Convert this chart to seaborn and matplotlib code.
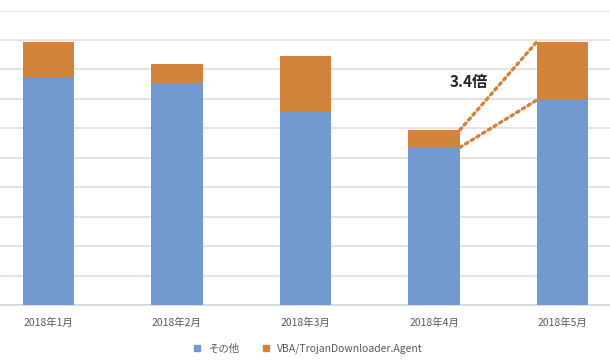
import numpy as np
import pandas as pd
import seaborn as sns
import matplotlib.pyplot as plt

sns.set_style("white")
plt.rcParams['font.family'] = ['Noto Sans CJK JP', 'DejaVu Sans']

# -------------------------
# DATA (grid units)
# -------------------------
months = ["2018年1月", "2018年2月", "2018年3月", "2018年4月", "2018年5月"]
other = [7.72, 7.53, 6.60, 5.35, 6.96]
vba = [1.22, 0.65, 1.87, 0.59, 1.98]
series_names = ["その他", "VBA/TrojanDownloader.Agent"]
ratio_label = "3.4倍"

blue = "#7399d1"
orange = "#d2833b"

df = pd.DataFrame({"month": months, "other": other, "vba": vba})
df["total"] = df["other"] + df["vba"]

fig = plt.figure(figsize=(6.1, 3.63), dpi=100)
ax = fig.add_axes([-16 / 610, 58 / 363, 643 / 610, 294.5 / 363])

# stacked bars: total in orange, the blue part drawn over it
sns.barplot(data=df, x="month", y="total", color=orange, saturation=1,
            width=0.40, ax=ax, zorder=2, linewidth=0, edgecolor="none")
sns.barplot(data=df, x="month", y="other", color=blue, saturation=1,
            width=0.40, ax=ax, zorder=3, linewidth=0, edgecolor="none")

ax.set_ylim(0, 10)
ax.set_xlim(-0.5, 4.5)
ax.set_yticks(np.arange(0, 11, 1))
ax.yaxis.grid(True, color="#e3e3e3", linewidth=1.4, zorder=0)
ax.set_yticklabels([])
ax.tick_params(axis="y", length=0)
ax.set_xlabel("")
ax.set_ylabel("")
for s in ["top", "right", "left"]:
    ax.spines[s].set_visible(False)
ax.spines["bottom"].set_color("#d6d6d6")
ax.spines["bottom"].set_linewidth(1.2)

ax.set_xticks(range(len(months)))
ax.set_xticklabels(months, fontsize=7.5, color="#595959")
ax.tick_params(axis="x", length=0, pad=9)
ax.set_xticks(np.arange(0.5, len(months) - 1, 1), minor=True)
ax.tick_params(axis="x", which="minor", length=4, color="#d6d6d6")

# dotted growth lines from April to May
x0, x1 = 3 + 0.2, 4 - 0.2
ax.plot([x0, x1], [df["total"][3], df["total"][4]], linestyle=(0, (0.8, 1.2)),
        color=orange, linewidth=2.4, zorder=4, dash_capstyle="round")
ax.plot([x0, x1], [df["other"][3], df["other"][4]], linestyle=(0, (0.8, 1.2)),
        color=orange, linewidth=2.4, zorder=4, dash_capstyle="round")
ax.text(3.27, 7.57, ratio_label, fontsize=11, fontweight="bold",
        color="#262626", ha="center", va="center")

# legend
handles = [plt.Line2D([], [], marker="s", linestyle="", color=c, markersize=5)
           for c in [blue, orange]]
fig.legend(handles, series_names, loc="center", bbox_to_anchor=(0.5, 14 / 363),
           ncol=2, frameon=False, fontsize=7.5, labelcolor="#595959",
           handletextpad=0.1, columnspacing=1.5)

fig.savefig("out.png", dpi=100)
